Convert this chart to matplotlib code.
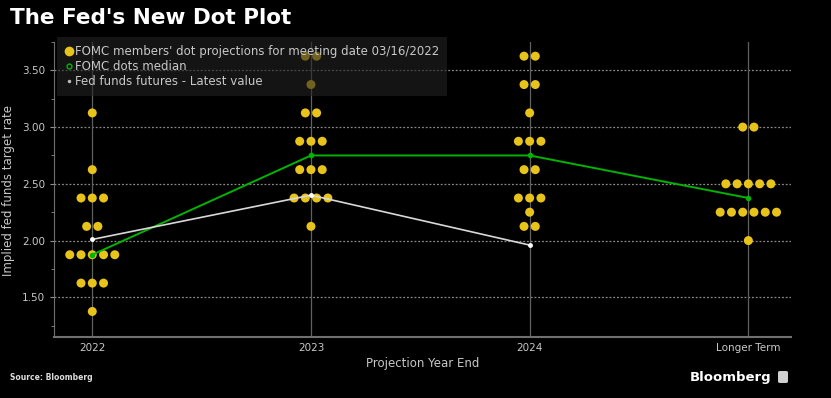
import matplotlib
matplotlib.use("Agg")
import matplotlib.pyplot as plt
from matplotlib.lines import Line2D
from matplotlib.patches import FancyBboxPatch
import numpy as np

categories = ["2022", "2023", "2024", "Longer Term"]

# dot projections: (rate, number of participants)
dots_2022 = [(3.125, 1), (2.625, 1), (2.375, 3), (2.125, 2), (1.875, 5), (1.625, 3), (1.375, 1)]
dots_2023 = [(3.625, 2), (3.375, 1), (3.125, 2), (2.875, 3), (2.625, 3), (2.375, 4), (2.125, 1)]
dots_2024 = [(3.625, 2), (3.375, 2), (3.125, 1), (2.875, 3), (2.625, 2), (2.375, 3), (2.25, 1), (2.125, 2)]
dots_longer = [(3.0, 2), (2.5, 5), (2.25, 6), (2.0, 1)]
dot_sets = [dots_2022, dots_2023, dots_2024, dots_longer]

median = [1.875, 2.75, 2.75, 2.375]
futures = [2.01, 2.40, 1.96]

yticks = [1.50, 2.00, 2.50, 3.00, 3.50]

BG = "black"
DOT = "#e8c31a"
GRID = "#8a8a8a"
TXT = "#c8c8c8"

fig = plt.figure(figsize=(8.31, 3.98), dpi=100, facecolor=BG)
ax = fig.add_axes([54/831, 61/398, 737/831, 295/398], facecolor=BG)

spacing = 0.0515
xs, ys = [], []
for i, rows in enumerate(dot_sets):
    for rate, n in rows:
        for k in range(n):
            xs.append(i + (k - (n - 1) / 2) * spacing)
            ys.append(rate)
ax.scatter(xs, ys, s=42, color=DOT, edgecolors="none", zorder=3)

ax.plot(range(len(median)), median, color="#00b400", lw=1.4, marker="o", ms=3,
        mfc="#00b400", mec="#00b400", zorder=4)
ax.plot(range(len(futures)), futures, color="#d8d8d8", lw=1.2, marker="o", ms=2.5,
        mfc="white", mec="white", zorder=4)

ax.set_xlim(-0.175, 3.195)
ax.set_ylim(1.15, 3.75)
ax.set_xticks(range(len(categories)))
ax.set_xticklabels(categories)
ax.set_yticks(yticks)
ax.set_yticklabels([f"{v:.2f}" for v in yticks])
ax.set_yticks(np.arange(1.25, 3.76, 0.25), minor=True)

for v in yticks:
    ax.axhline(v, color=GRID, lw=0.9, ls=(0, (1.5, 1.5)), zorder=1)
for i in range(len(categories)):
    ax.axvline(i, color="#606060", lw=0.9, zorder=1)

for s in ["top", "right"]:
    ax.spines[s].set_visible(False)
ax.spines["left"].set_color("#707070")
ax.spines["bottom"].set_color("#707070")
ax.spines["bottom"].set_linewidth(1.5)
ax.tick_params(axis="both", colors="#909090", labelcolor=TXT, labelsize=7.5, length=3)
ax.tick_params(axis="y", which="minor", colors="#909090", length=2)
ax.tick_params(axis="x", length=0, pad=4)

ax.set_xlabel("Projection Year End", color=TXT, fontsize=8.5, labelpad=3)
ax.set_ylabel("Implied fed funds target rate", color=TXT, fontsize=8.5)
ax.yaxis.set_label_coords(15/831, 1 - 191/398, transform=fig.transFigure)

handles = [
    Line2D([], [], ls="none", marker="o", ms=7, mfc=DOT, mec="none"),
    Line2D([], [], ls="none", marker="o", ms=3.5, mfc="none", mec="#00b400", mew=1),
    Line2D([], [], ls="none", marker="o", ms=2.5, mfc="#bbbbbb", mec="none"),
]
labels = ["FOMC members' dot projections for meeting date 03/16/2022",
          "FOMC dots median",
          "Fed funds futures - Latest value"]
leg = ax.legend(handles, labels, loc="upper left", bbox_to_anchor=(57/831, 1 - 37/398),
                bbox_transform=fig.transFigure, frameon=True, fontsize=8.5,
                handlelength=0.6, handletextpad=0.2, borderpad=0.7, labelspacing=0.15,
                borderaxespad=0, facecolor="#222222", edgecolor="none", framealpha=0.6)
leg.get_frame().set_boxstyle("square", pad=0)
for t in leg.get_texts():
    t.set_color(TXT)
leg.set_zorder(6)

fig.text(10/831, 1 - 18/398, "The Fed's New Dot Plot", color="white", fontsize=15.5,
         fontweight="bold", va="center", ha="left")
fig.text(10/831, 1 - 378/398, "Source: Bloomberg", color="#dddddd", fontsize=5.5,
         fontweight="bold", va="center", ha="left")
fig.text(771/831, 1 - 377/398, "Bloomberg", color="white", fontsize=9.5,
         fontweight="bold", va="center", ha="right")
icon = FancyBboxPatch((778/831, 1 - 383/398), 10/831, 12/398,
                      boxstyle="round,pad=0,rounding_size=0.003",
                      transform=fig.transFigure, facecolor="#d0d0d0", edgecolor="none")
fig.patches.append(icon)

fig.savefig("out.png", dpi=100, facecolor=BG)
